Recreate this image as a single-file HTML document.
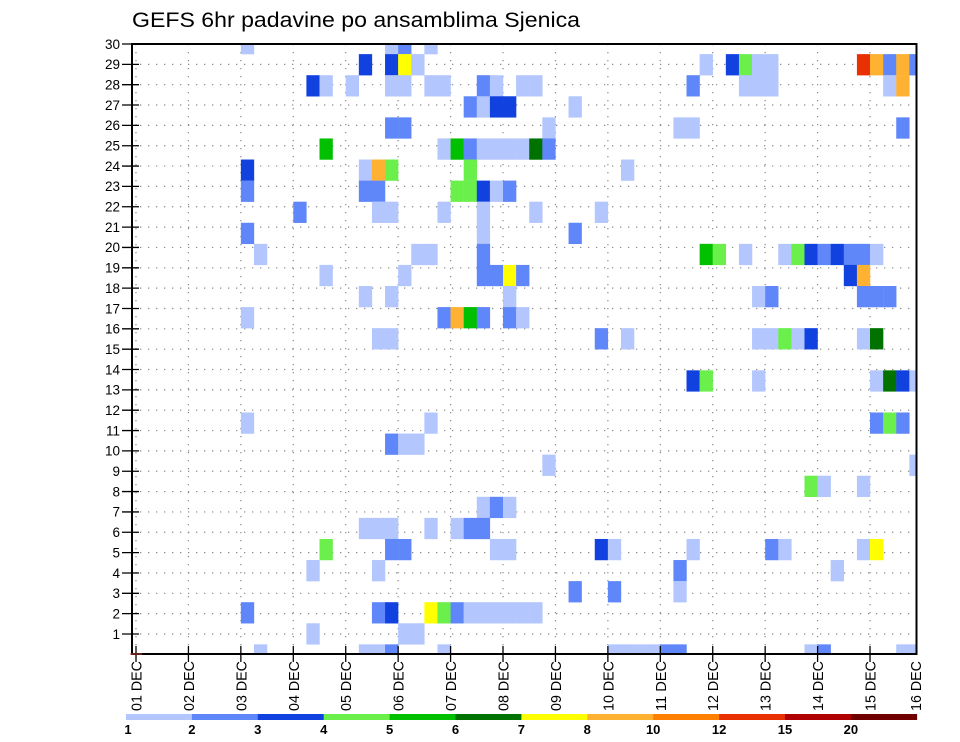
<!DOCTYPE html>
<html><head><meta charset="utf-8"><style>
html,body{margin:0;padding:0;background:#fff;}
svg{display:block;font-family:"Liberation Sans",sans-serif;}
</style></head><body>
<svg id="chart" width="960" height="742" viewBox="0 0 960 742" xmlns="http://www.w3.org/2000/svg">
<defs><clipPath id="plotclip"><rect x="132" y="44" width="784.5" height="610"/></clipPath></defs>
<text x="132" y="27" font-size="21" textLength="448" lengthAdjust="spacingAndGlyphs" fill="#000">GEFS 6hr padavine po ansamblima Sjenica</text>
<g id="grid"></g>
<g id="cells" clip-path="url(#plotclip)"></g>
<rect x="132" y="44" width="784.5" height="610" fill="none" stroke="#000" stroke-width="2"/>
<g id="yaxis"></g>
<g id="xaxis"></g>
<g id="legend"></g>
</svg>
<script>
// ---- data ----
const dayLabels = ["01 DEC","02 DEC","03 DEC","04 DEC","05 DEC","06 DEC","07 DEC","08 DEC","09 DEC","10 DEC","11 DEC","12 DEC","13 DEC","14 DEC","15 DEC","16 DEC"];
const memberTicks = [1,2,3,4,5,6,7,8,9,10,11,12,13,14,15,16,17,18,19,20,21,22,23,24,25,26,27,28,29,30];
const levelLabels = ["1","2","3","4","5","6","7","8","10","12","15","20"];
const levelColors = ["#b3c6fe","#5f87f9","#1142e0","#6aef4b","#00c000","#007200","#ffff00","#ffb232","#ff8000","#e83000","#b00000","#700000"];
// cells: time step (6h index from 01 DEC), member row, precipitation class
const cellStep = [
8,19,20,22,
17,19,20,21,43,45,46,47,48,55,56,57,58,59,
13,14,16,19,20,22,23,26,27,29,30,42,46,47,48,57,58,
25,26,27,28,33,
19,20,31,41,42,58,
14,23,24,25,26,27,28,29,30,31,
8,17,18,19,25,37,
8,17,18,24,25,26,27,28,
12,18,19,23,26,30,35,
8,26,33,
9,21,22,26,43,44,46,49,50,51,52,53,54,55,56,
14,20,26,27,28,29,54,55,
17,19,28,47,48,55,56,57,
8,23,24,25,26,28,29,
18,19,35,37,47,48,49,50,51,55,56,
42,43,47,56,57,58,59,
8,22,56,57,58,
19,20,21,
31,59,
51,52,55,
26,27,28,
17,18,19,22,24,25,26,
14,19,20,27,28,35,36,42,48,49,55,56,
13,18,41,53,
33,36,41,
8,18,19,22,23,24,25,26,27,28,29,30,
13,20,21,
9,17,18,19,23,36,37,38,39,40,41,51,52,58,59];
const cellMember = [
29,29,29,29,
28,28,28,28,28,28,28,28,28,28,28,28,28,28,
27,27,27,27,27,27,27,27,27,27,27,27,27,27,27,27,27,
26,26,26,26,26,
25,25,25,25,25,25,
24,24,24,24,24,24,24,24,24,24,
23,23,23,23,23,23,
22,22,22,22,22,22,22,22,
21,21,21,21,21,21,21,
20,20,20,
19,19,19,19,19,19,19,19,19,19,19,19,19,19,19,
18,18,18,18,18,18,18,18,
17,17,17,17,17,17,17,17,
16,16,16,16,16,16,16,
15,15,15,15,15,15,15,15,15,15,15,
13,13,13,13,13,13,13,
11,11,11,11,11,
10,10,10,
9,9,
8,8,8,
7,7,7,
6,6,6,6,6,6,6,
5,5,5,5,5,5,5,5,5,5,5,5,
4,4,4,4,
3,3,3,
2,2,2,2,2,2,2,2,2,2,2,2,
1,1,1,
0,0,0,0,0,0,0,0,0,0,0,0,0,0,0];
const cellLevel = [
1,1,2,1,
3,3,7,1,1,3,4,1,1,10,8,2,8,2,
3,1,1,1,1,1,1,2,1,1,1,2,1,1,1,1,8,
2,1,3,3,1,
2,2,1,1,1,2,
5,1,5,2,1,1,1,1,6,2,
3,1,8,4,4,1,
2,2,2,4,4,3,1,2,
2,1,1,1,1,1,1,
2,1,2,
1,1,1,2,5,4,1,1,4,3,2,3,2,2,1,
1,1,2,2,7,2,3,8,
1,1,1,1,2,2,2,2,
1,2,8,5,2,2,1,
1,1,2,1,1,1,4,1,3,1,6,
3,4,1,1,6,3,1,
1,1,2,4,2,
2,1,1,
1,1,
4,1,1,
1,2,1,
1,1,1,1,1,2,2,
4,2,2,1,1,3,1,1,2,1,1,7,
1,1,2,1,
2,2,1,
2,2,3,7,4,2,1,1,1,1,1,1,
1,1,1,
1,1,1,2,1,1,1,1,1,2,2,1,2,1,1];

// ---- scales ----
const NS = "http://www.w3.org/2000/svg";
const X0 = 136, DAY = 52.43, STEP = DAY/4;
const xDay = d => X0 + d*DAY;
const xStep = s => X0 + s*STEP;
const CELL_H = 21.08, CELL_Y0 = 654.9;
const yCell = m => CELL_Y0 - m*CELL_H;
const yTick = r => 634 - (r-1)*20.345;
function mk(tag, attrs, parent){const e=document.createElementNS(NS,tag);for(const k in attrs)e.setAttribute(k,attrs[k]);parent.appendChild(e);return e;}

const grid=document.getElementById('grid');
memberTicks.forEach(r=>{
  const l=mk('line',{x1:132,x2:916,y1:yTick(r),y2:yTick(r),stroke:'#8a8a8a','stroke-width':1.2,'stroke-dasharray':'1.3 6.7'},grid);
  
  
});
dayLabels.slice(0,15).forEach((d,i)=>{
  const l=mk('line',{x1:xDay(i),x2:xDay(i),y1:44,y2:654,stroke:'#8a8a8a','stroke-width':1.2,'stroke-dasharray':'1.3 6.7'},grid);
  
  
});

const cells=document.getElementById('cells');
for(let i=0;i<cellStep.length;i++){
  const r=mk('rect',{x:xStep(cellStep[i]),y:yCell(cellMember[i])-CELL_H/2,width:STEP+0.2,height:CELL_H+0.2,fill:levelColors[cellLevel[i]-1]},cells);
  
  
}

const ya=document.getElementById('yaxis');
memberTicks.forEach(r=>{
  const y=yTick(r);
  const t=mk('line',{x1:122,x2:139,y1:y,y2:y,stroke:'#000','stroke-width':1.3},ya);
  
  
  const tx=mk('text',{x:120,y:y+4.8,'font-size':13.5,'text-anchor':'end',fill:'#000'},ya);
  tx.textContent=r;
  
  
});

const xa=document.getElementById('xaxis');
dayLabels.forEach((d,i)=>{
  const x = i<15 ? xDay(i) : 915.5;
  if(i<15){
    const t=mk('line',{x1:x,x2:x,y1:646,y2:662,stroke:'#000','stroke-width':1.3},xa);
    
    
  }
  const tx=mk('text',{x:0,y:0,'font-size':15,fill:'#000',textLength:50,lengthAdjust:'spacingAndGlyphs',transform:`translate(${x+5.5},711) rotate(-90)`},xa);
  tx.textContent=d;
  
  
});
const rc=mk('line',{x1:130,x2:142,y1:654,y2:654,stroke:'#d04040','stroke-width':1},xa);



const lg=document.getElementById('legend');
const LX0=126, LW=65.9;
levelColors.forEach((c,i)=>{
  const r=mk('rect',{x:LX0+i*LW,y:714,width:LW+0.3,height:6,fill:c},lg);
  
  
});
levelLabels.forEach((s,i)=>{
  const t=mk('text',{x:LX0+i*LW+(i===0?2:0),y:734,'font-size':13,'font-weight':'bold','text-anchor':'middle',fill:'#000'},lg);
  t.textContent=s;
  
  
});
</script>
</body></html>
